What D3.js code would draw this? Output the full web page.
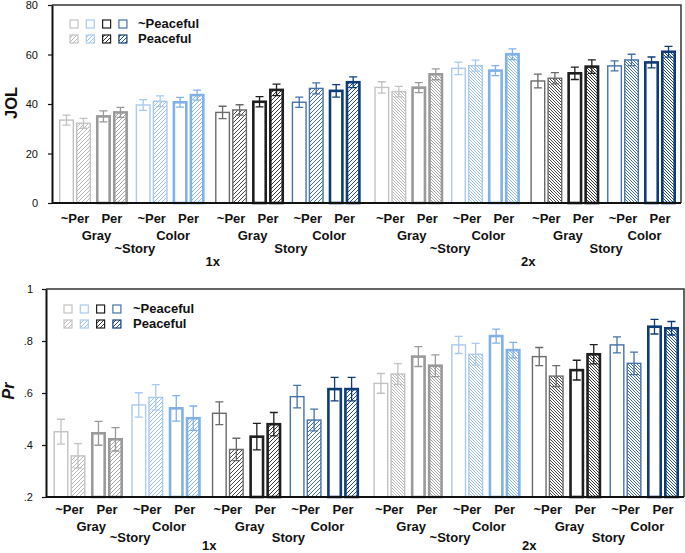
<!DOCTYPE html>
<html><head><meta charset="utf-8">
<script src="https://cdn.jsdelivr.net/npm/d3@7"></script>
<style>body{margin:0;background:#fff;} svg{display:block;font-family:"Liberation Sans",Arial,Helvetica,sans-serif;}</style>
</head><body><svg id="c" width="685" height="553"></svg>
<script>
// ---------- data ----------
const speeds = ["1x", "2x"];
const stories = ["~Story", "Story"];
const colorModes = ["Gray", "Color"];
const perLevels = ["~Per", "Per"];
const peaceLevels = ["~Peaceful", "Peaceful"];

// bar order: speed > story > colour mode > Per > Peaceful
const jolMeans = [33.5, 32.2, 35.0, 36.6, 39.6, 41.1, 40.7, 43.6,
                  36.6, 37.6, 40.9, 45.7, 40.7, 46.3, 45.3, 48.8,
                  46.7, 45.0, 46.6, 52.0, 54.4, 55.5, 53.5, 60.1,
                  49.3, 50.4, 52.4, 55.1, 55.4, 57.8, 56.8, 61.1];
const jolErrors = [2.0, 2.0, 2.2, 2.0, 2.2, 2.2, 2.0, 2.0,
                   2.5, 2.1, 2.1, 2.3, 2.1, 2.2, 2.5, 2.2,
                   2.3, 2.1, 2.0, 2.2, 2.5, 2.2, 2.0, 2.2,
                   2.8, 2.3, 2.5, 2.7, 2.0, 2.3, 2.2, 2.2];
const prMeans = [0.451, 0.358, 0.445, 0.422, 0.554, 0.583, 0.541, 0.503,
                 0.522, 0.383, 0.432, 0.480, 0.586, 0.496, 0.615, 0.615,
                 0.637, 0.673, 0.740, 0.705, 0.785, 0.749, 0.819, 0.765,
                 0.740, 0.665, 0.688, 0.749, 0.785, 0.714, 0.855, 0.849];
const prErrors = [0.048, 0.047, 0.046, 0.045, 0.047, 0.049, 0.049, 0.047,
                  0.044, 0.043, 0.051, 0.045, 0.043, 0.042, 0.045, 0.045,
                  0.038, 0.040, 0.038, 0.042, 0.033, 0.042, 0.027, 0.030,
                  0.035, 0.040, 0.038, 0.037, 0.031, 0.043, 0.028, 0.026];

const jolTicks = [0, 20, 40, 60, 80];
const prTicks = [0.2, 0.4, 0.6, 0.8, 1];
const prTickLabels = [".2", ".4", ".6", ".8", "1"];

// ---------- styles ----------
const strokeColors = {
  "~Story|Gray|~Per": "#c2c2c2", "~Story|Gray|Per": "#9a9a9a",
  "~Story|Color|~Per": "#a9caf1", "~Story|Color|Per": "#80b1e9",
  "Story|Gray|~Per": "#6a6a6a", "Story|Gray|Per": "#1f1f1f",
  "Story|Color|~Per": "#4572aa", "Story|Color|Per": "#0e3c77"
};
const hatchColors = {
  "~Story|Gray|~Per": "#b0b0b0", "~Story|Gray|Per": "#9a9a9a",
  "~Story|Color|~Per": "#90bbec", "~Story|Color|Per": "#80b1e9",
  "Story|Gray|~Per": "#333333", "Story|Gray|Per": "#1f1f1f",
  "Story|Color|~Per": "#2d5d98", "Story|Color|Per": "#0e3c77"
};
const strokeW = { "~Per": 1.4, "Per": 2.6 };
const legendKeys = ["~Story|Gray|~Per", "~Story|Color|~Per", "Story|Gray|Per", "Story|Color|~Per"];
const legendHatch = ["~Story|Gray|~Per", "~Story|Color|~Per", "Story|Gray|Per", "Story|Color|Per"];

const svg = d3.select("#c");
const defs = svg.append("defs");
const keyList = Object.keys(hatchColors);
function patId(key, speed) { return "h" + keyList.indexOf(key) + "_" + speed; }
keyList.forEach(key => {
  speeds.forEach(sp => {
    const s = sp === "1x" ? 4 : 3;
    const p = defs.append("pattern").attr("id", patId(key, sp))
      .attr("patternUnits", "userSpaceOnUse").attr("width", s).attr("height", s);
    p.append("rect").attr("width", s).attr("height", s).attr("fill", "#fff");
    const d = sp === "1x"
      ? `M-1,1 L1,-1 M0,${s} L${s},0 M${s - 1},${s + 1} L${s + 1},${s - 1}`
      : `M-1,${s - 1} L1,${s + 1} M0,0 L${s},${s} M${s - 1},-1 L${s + 1},1`;
    p.append("path").attr("d", d).attr("stroke", hatchColors[key]).attr("stroke-width", 0.9);
  });
});

// rows
const rows = [];
speeds.forEach(sp => stories.forEach(st => colorModes.forEach(cm => perLevels.forEach(pe => peaceLevels.forEach(pc => {
  rows.push({ sp, st, cm, pe, pc, i: rows.length, key: `${st}|${cm}|${pe}` });
})))));

// pair unit positions
const pairUnits = [];
for (let k = 0; k < 16; k++) {
  if (k === 0) { pairUnits.push(0); continue; }
  const gap = k % 8 === 0 ? 1.235 : k % 4 === 0 ? 1.15 : k % 2 === 0 ? 1.075 : 1;
  pairUnits.push(pairUnits[k - 1] + gap);
}

function drawPanel(cfg) {
  const g = svg.append("g");
  const x = d3.scaleLinear().domain([0, pairUnits[15]]).range(cfg.pairRange);
  const y = d3.scaleLinear().domain(cfg.domain).range([cfg.yBottom, cfg.yTop]);
  const pairX = k => x(pairUnits[k]);
  const barW = 15;

  // frame (top, right)
  g.append("path").attr("d", `M${cfg.x0},${cfg.yTop} H${cfg.x1} V${cfg.yBottom}`)
    .attr("fill", "none").attr("stroke", "#333").attr("stroke-width", 1.5);

  // bars
  rows.forEach(r => {
    const k = Math.floor(r.i / 2);
    const cx = pairX(k) + (r.pc === "~Peaceful" ? -8.5 : 8.5);
    const v = cfg.means[r.i], e = cfg.errors[r.i];
    const sw = strokeW[r.pe];
    const col = strokeColors[r.key];
    g.append("rect")
      .attr("x", cx - barW / 2 + sw / 2).attr("width", barW - sw)
      .attr("y", y(v)).attr("height", y(cfg.domain[0]) - y(v))
      .attr("fill", r.pc === "Peaceful" ? `url(#${patId(r.key, r.sp)})` : "#fff")
      .attr("stroke", col).attr("stroke-width", sw);
    g.append("path")
      .attr("d", `M${cx},${y(v + e)} V${y(v - e)} M${cx - 4},${y(v + e)} H${cx + 4} M${cx - 4},${y(v - e)} H${cx + 4}`)
      .attr("stroke", col).attr("stroke-width", 1.3).attr("fill", "none");
  });

  // axes
  const ax = d3.axisLeft(y).tickValues(cfg.ticks).tickSize(4).tickSizeOuter(0)
    .tickPadding(cfg.tickPad).tickFormat((d, i) => cfg.tickLabels[i]);
  const axG = g.append("g").attr("transform", `translate(${cfg.x0},0)`).call(ax);
  axG.select(".domain").attr("stroke", "#111").attr("stroke-width", 2);
  axG.selectAll(".tick line").attr("stroke", "#111").attr("stroke-width", 1.2);
  axG.selectAll(".tick text").attr("font-size", 11).attr("fill", "#111")
    .attr("font-family", "Liberation Sans, Arial, sans-serif");
  g.append("line").attr("x1", cfg.x0).attr("x2", cfg.x1).attr("y1", cfg.yBottom).attr("y2", cfg.yBottom)
    .attr("stroke", "#111").attr("stroke-width", 2);

  // category labels
  const lab = (t, xx, yy) => g.append("text").attr("x", xx).attr("y", yy).attr("text-anchor", "middle")
    .attr("font-size", 13).attr("font-weight", "bold").attr("fill", "#111").text(t);
  for (let k = 0; k < 16; k++) lab(perLevels[k % 2], pairX(k), cfg.labY[0]);
  for (let k = 0; k < 16; k += 2) lab(colorModes[(k / 2) % 2], (pairX(k) + pairX(k + 1)) / 2 + 3, cfg.labY[1]);
  for (let k = 0; k < 16; k += 4) lab(stories[(k / 4) % 2], (pairX(k) + pairX(k + 3)) / 2 + 3, cfg.labY[2]);
  for (let k = 0; k < 16; k += 8) lab(speeds[k / 8], (pairX(k) + pairX(k + 7)) / 2 + 3, cfg.labY[3]);

  // y title
  g.append("text").attr("transform", `translate(${cfg.titleX},${cfg.titleY}) rotate(-90)`)
    .attr("text-anchor", "middle").attr("font-size", cfg.titleSize).attr("font-weight", "bold")
    .attr("font-style", cfg.titleItalic ? "italic" : "normal").attr("fill", "#111").text(cfg.title);

  // legend
  const L = cfg.legend;
  legendKeys.forEach((key, j) => {
    g.append("rect").attr("x", L.x + j * 16.3).attr("y", L.y).attr("width", 8).attr("height", 8)
      .attr("fill", "#fff").attr("stroke", strokeColors[key]).attr("stroke-width", 1.2);
  });
  legendHatch.forEach((key, j) => {
    g.append("rect").attr("x", L.x + j * 16.3).attr("y", L.y + 15).attr("width", 8).attr("height", 8)
      .attr("fill", `url(#${patId(key, "1x")})`).attr("stroke", strokeColors[key]).attr("stroke-width", 1.2);
  });
  peaceLevels.forEach((t, j) => {
    g.append("text").attr("x", L.tx).attr("y", L.y + 8 + j * 15).attr("font-size", 13)
      .attr("font-weight", "bold").attr("fill", "#111").text(t);
  });
}

drawPanel({
  means: jolMeans, errors: jolErrors, domain: [0, 80], ticks: jolTicks, tickLabels: jolTicks.map(String),
  yTop: 5, yBottom: 203, x0: 52, x1: 681, pairRange: [75, 660], tickPad: 10,
  labY: [223, 240, 253, 266], title: "JOL", titleX: 17, titleY: 103, titleItalic: false, titleSize: 16.5,
  legend: { x: 70, y: 20, tx: 138 }
});
drawPanel({
  means: prMeans, errors: prErrors, domain: [0.2, 1], ticks: prTicks, tickLabels: prTickLabels,
  yTop: 289, yBottom: 497, x0: 46, x1: 684, pairRange: [69.5, 663], tickPad: 9,
  labY: [514, 531, 542, 550], title: "Pr", titleX: 14, titleY: 391, titleItalic: true, titleSize: 16,
  legend: { x: 64, y: 305, tx: 133 }
});
</script></body></html>
